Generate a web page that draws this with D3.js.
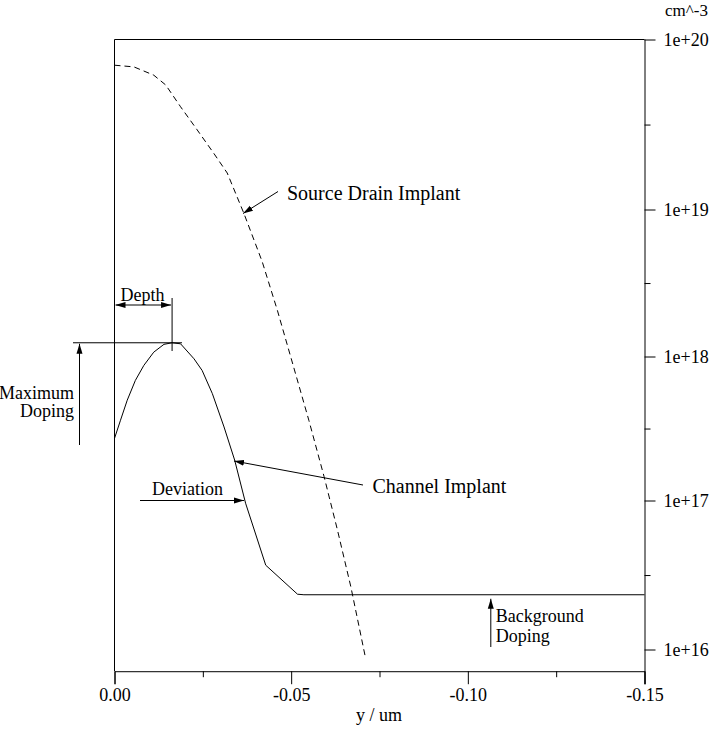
<!DOCTYPE html>
<html>
<head>
<meta charset="utf-8">
<script src="https://cdn.jsdelivr.net/npm/d3@7"></script>
<style>
  body { margin: 0; background: #fff; }
  svg text { font-family: "Liberation Serif", "Times New Roman", serif; fill: #000; }
</style>
</head>
<body>
<svg width="710" height="730"></svg>
<script>
// profil de dopage : profondeur (um) et concentration (cm^-3)
var sdDepth = [0, -0.0055, -0.0111, -0.0145, -0.0187, -0.0234, -0.0281, -0.0319, -0.0366,
  -0.0418, -0.0461, -0.0499, -0.0550, -0.0593, -0.0631, -0.0669, -0.0711]
var sdDoping = [7.06e19, 6.90e19, 6.17e19, 5.40e19, 4.02e19, 2.94e19, 2.14e19, 1.64e19, 9.44e18,
  4.42e18, 2.06e18, 9.89e17, 3.61e17, 1.47e17, 6.34e16, 2.63e16, 8.65e15]

var chDepth = [0, -0.0017, -0.0036, -0.0059, -0.0083, -0.0111, -0.0140, -0.0163, -0.0187, -0.0225,
  -0.0248, -0.0277, -0.0310, -0.0340, -0.0371, -0.0428, -0.0518, -0.0536, -0.15]
var chDoping = [2.70e17, 3.61e17, 4.97e17, 6.82e17, 8.67e17, 1.07e18, 1.21e18, 1.24e18, 1.22e18, 9.64e17,
  8.0e17, 5.52e17, 3.24e17, 1.91e17, 9.59e16, 3.68e16, 2.35e16, 2.33e16, 2.33e16]

// axes
var xTicks = [0, -0.05, -0.10, -0.15]
var xMinor = [-0.025, -0.075, -0.125]
var yTicks = [1e16, 1e17, 1e18, 1e19, 1e20]
var yMinor = [3.16e16, 3.16e17, 3.16e18, 3.16e19]
var yBottom = 7.15e15

// repères des annotations
var peakDepth = -0.0163
var peakDoping = 1.24e18
var backgroundDoping = 2.33e16

var svg = d3.select("svg")

var x = d3.scaleLinear().domain([0, -0.15]).range([114.5, 644.5])
// décades pas tout à fait régulières dans l'original
var y = d3.scaleLog().domain(yTicks).range([649.5, 500.5, 356.5, 209.5, 39.5])

var defs = svg.append("defs")
defs.append("marker")
  .attr("id", "tete")
  .attr("viewBox", "0 -4 10 8")
  .attr("markerUnits", "userSpaceOnUse")
  .attr("markerWidth", 10)
  .attr("markerHeight", 8)
  .attr("refX", 10)
  .attr("refY", 0)
  .attr("orient", "auto-start-reverse")
  .append("path")
  .attr("d", "M0,-3L10,0L0,3Z")
  .attr("fill", "black")

// cadre
var x0 = x(0), x1 = x(-0.15), yTop = y(1e20), yBot = y(yBottom)
svg.append("line").attr("x1", x0).attr("x2", x1).attr("y1", yTop).attr("y2", yTop)
  .attr("stroke", "black")
svg.append("line").attr("x1", x0).attr("x2", x0).attr("y1", yTop).attr("y2", yBot)
  .attr("stroke", "black")

// axe x
svg.append("g")
  .attr("transform", "translate(0," + yBot + ")")
  .call(d3.axisBottom(x).tickValues(xTicks).tickSize(13).tickPadding(4)
    .tickFormat(function(d){ return d.toFixed(2) }))
  .call(function(g){ g.selectAll("text").style("font-size", "18px").style("font-family", "Liberation Serif") })
svg.append("g")
  .attr("transform", "translate(0," + yBot + ")")
  .call(d3.axisBottom(x).tickValues(xMinor).tickSize(6).tickFormat(""))
  .call(function(g){ g.select(".domain").remove() })

// axe y à droite
svg.append("g")
  .attr("transform", "translate(" + x1 + ",0)")
  .call(d3.axisRight(y).tickValues(yTicks).tickSize(11).tickPadding(8)
    .tickFormat(function(d){ return "1e+" + Math.round(Math.log10(d)) }))
  .call(function(g){
    g.select(".domain").attr("d", "M0.5," + yTop + "V" + (yBot + 13))
    g.selectAll("text").style("font-size", "18px").style("font-family", "Liberation Serif")
  })
svg.append("g")
  .attr("transform", "translate(" + x1 + ",0)")
  .call(d3.axisRight(y).tickValues(yMinor).tickSize(6).tickFormat(""))
  .call(function(g){ g.select(".domain").remove() })

svg.selectAll(".domain, .tick line").attr("stroke", "black")

svg.append("text").text("y / um")
  .attr("x", 379).attr("y", 721)
  .attr("text-anchor", "middle").style("font-size", "18px")
svg.append("text").text("cm^-3")
  .attr("x", 708).attr("y", 16)
  .attr("text-anchor", "end")
  .style("font-size", "17px")

// courbes
var ligne = d3.line()
  .x(function(d){ return x(d[0]) })
  .y(function(d){ return y(d[1]) })

svg.append("path")
  .attr("d", ligne(d3.zip(sdDepth, sdDoping)))
  .attr("fill", "none").attr("stroke", "black").attr("stroke-width", 1)
  .attr("stroke-dasharray", "6,4")

svg.append("path")
  .attr("d", ligne(d3.zip(chDepth, chDoping)))
  .attr("fill", "none").attr("stroke", "black").attr("stroke-width", 1)

// annotations
function fleche(xa, ya, xb, yb, deux){
  var l = svg.append("line")
    .attr("x1", xa).attr("y1", ya).attr("x2", xb).attr("y2", yb)
    .attr("stroke", "black").attr("stroke-width", 1)
    .attr("marker-end", "url(#tete)")
  if (deux) l.attr("marker-start", "url(#tete)")
}
function texte(t, xt, yt, taille, ancre){
  svg.append("text").text(t)
    .attr("x", xt).attr("y", yt)
    .attr("text-anchor", ancre || "start")
    .style("font-size", taille + "px")
}

// Source Drain Implant
texte("Source Drain Implant", 287, 199.5, 20)
fleche(278, 191.5, 243, 213.5)

// Channel Implant
texte("Channel Implant", 372.5, 493, 20)
fleche(363, 485, 234, 461)

// Depth
var yPeak = y(peakDoping)
texte("Depth", x0 + 28, 300.5, 18, "middle")
fleche(x0 + 1, 305, x(peakDepth) - 1, 305, true)
svg.append("line")
  .attr("x1", x(peakDepth)).attr("x2", x(peakDepth))
  .attr("y1", 298).attr("y2", 351)
  .attr("stroke", "black")

// Maximum Doping
svg.append("line")
  .attr("x1", 73).attr("x2", 182)
  .attr("y1", yPeak).attr("y2", yPeak)
  .attr("stroke", "black")
fleche(79.5, 445, 79.5, yPeak + 1)
texte("Maximum", 74, 398.5, 18, "end")
texte("Doping", 74, 417, 18, "end")

// Deviation
texte("Deviation", 187.5, 495, 18, "middle")
fleche(140, 500.5, 244, 500.5)

// Background Doping
var bx = x(-0.1065)
fleche(bx, 647, bx, y(backgroundDoping) + 4)
texte("Background", bx + 5, 621.5, 18)
texte("Doping", bx + 5, 641.5, 18)
</script>
</body>
</html>
